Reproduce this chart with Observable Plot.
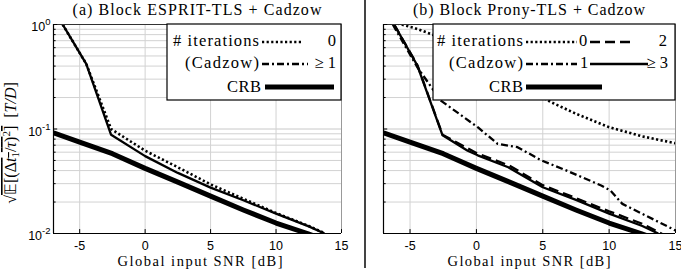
<!DOCTYPE html>
<html><head><meta charset="utf-8">
<script src="https://cdn.jsdelivr.net/npm/d3@7"></script>
<script src="https://cdn.jsdelivr.net/npm/@observablehq/plot@0.6"></script>
<style>
body{margin:0;background:#fff;}
#wrap{position:relative;width:681px;height:271px;overflow:hidden;background:#fff;}
#wrap svg{position:absolute;top:0;overflow:visible;}
#sep{position:absolute;left:364px;top:0;width:1.5px;height:268px;background:#444;}
</style></head><body><div id="wrap"><div id="sep"></div></div>
<script>
// ---- tick values ----
const snrTicks = [-5, 0, 5, 10, 15];
const yMajor = [1, 0.1, 0.01];
const yMinor = [0.02,0.03,0.04,0.05,0.06,0.07,0.08,0.09,0.2,0.3,0.4,0.5,0.6,0.7,0.8,0.9];

// ---- CRB (both panels) ----
const crbSnr = [-7, -5, -2.5, 0, 2.5, 5, 7.5, 10, 12.4, 15];
const crbVal = [0.092, 0.075, 0.058, 0.042, 0.031, 0.0228, 0.0168, 0.0126, 0.01, 0.0075];

// ---- panel (a) Block ESPRIT-TLS + Cadzow ----
const aSnr   = [-6.3, -4.5, -2.6, 0, 2.5, 5, 7.5, 10, 12.5, 13.7];
const aIter0 = [1.0, 0.42, 0.1, 0.062, 0.043, 0.0295, 0.0215, 0.0157, 0.0118, 0.0101];
const aIter1 = [1.0, 0.42, 0.088, 0.055, 0.038, 0.0275, 0.0208, 0.0155, 0.0117, 0.01];

// ---- panel (b) Block Prony-TLS + Cadzow ----
const bSnr0  = [-6.3, -4.7, -3.3, -1, 1, 3, 5.65, 7.5, 10, 12.5, 15];
const bIter0 = [1.05, 0.93, 0.8, 0.55, 0.39, 0.28, 0.18, 0.14, 0.104, 0.085, 0.073];
const bSnr1  = [-6.3, -4.45, -2.68, 0.1, 1.6, 3.1, 4.9, 7, 9.4, 10.1, 11, 15];
const bIter1 = [1.0, 0.39, 0.187, 0.104, 0.072, 0.067, 0.05, 0.039, 0.0288, 0.0258, 0.0192, 0.0107];
const bSnr2  = [-6.2, -4.45, -2.55, 0, 2.5, 5, 7.5, 10, 12.5, 14];
const bIter2 = [1.0, 0.41, 0.088, 0.059, 0.0445, 0.029, 0.0218, 0.0163, 0.0124, 0.0099];
const bSnr3  = [-6.2, -4.45, -2.55, -0.66, 0.1, 2.4, 5, 7.5, 10, 12.5, 13.7];
const bIter3 = [1.0, 0.405, 0.087, 0.062, 0.056, 0.043, 0.0277, 0.021, 0.0155, 0.0118, 0.01];

const rows = (xs, ys) => xs.map((x, i) => ({x, y: ys[i]}));

const DOT = "2.2,2.4", DASHDOT = "7,3,2,3", DASH = "10,5";
const SERIF = "'Liberation Serif', 'Times New Roman', serif";
const SANS = "'Liberation Sans', Arial, sans-serif";

function panel({width, marginRight, series, showY}) {
  const marks = [
    Plot.gridY(yMinor, {stroke: "#d2d2d2", strokeOpacity: 1}),
    Plot.gridY(yMajor, {stroke: "#c8c8c8", strokeOpacity: 1}),
    Plot.gridX(snrTicks, {stroke: "#d2d2d2", strokeOpacity: 1}),
    Plot.line(rows(crbSnr, crbVal), {x: "x", y: "y", stroke: "black", strokeWidth: 5, strokeLinecap: "butt", clip: true}),
    ...series.map(s => Plot.line(rows(s.x, s.y), {x: "x", y: "y", stroke: "black",
        strokeWidth: s.dash === DOT ? 2.6 : 2.3, strokeDasharray: s.dash,
        strokeLinecap: "butt", strokeLinejoin: "miter", clip: true})),
    Plot.ruleY([0.01], {stroke: "black", strokeWidth: 1.2}),
    Plot.ruleY([1], {stroke: "#333", strokeWidth: 1}),
    Plot.ruleX([-7], {stroke: "black", strokeWidth: 1.2}),
    Plot.ruleX([15], {stroke: "#999", strokeWidth: 1}),
    Plot.ruleX(snrTicks, {y1: 0.01, y2: 0.0109, stroke: "black"}),
    Plot.ruleY(yMinor, {x1: -7, x2: -6.8, stroke: "black"}),
    Plot.ruleY(yMajor, {x1: -7, x2: -6.68, stroke: "black"}),
    Plot.axisX(snrTicks, {tickSize: 0, tickPadding: 8, tickFormat: d => String(d), label: null,
        fontSize: 12.5, fontFamily: SANS, fill: "black"})
  ];
  if (showY) marks.push(Plot.axisY(yMajor, {tickSize: 0, tickPadding: 3, label: null,
        tickFormat: d => String(Math.round(Math.log10(d))), fontSize: 12.5, fontFamily: SANS, fill: "black"}));
  return Plot.plot({
    width, height: 271,
    marginLeft: 53, marginRight, marginTop: 24, marginBottom: 38,
    x: {domain: [-7, 15], axis: null},
    y: {type: "log", domain: [0.01, 1], axis: null},
    style: {background: "transparent", color: "black", overflow: "visible"},
    marks
  });
}

function addText(svg, str, x, y, opts = {}) {
  const t = svg.append("text").attr("x", x).attr("y", y)
    .attr("font-family", opts.family || SERIF).attr("font-size", opts.size || 16)
    .attr("text-anchor", opts.anchor || "start").attr("fill", "black").text(str);
  if (opts.len) t.attr("textLength", opts.len).attr("lengthAdjust", "spacing");
  return t;
}
function addLine(svg, x1, x2, y, w, dash) {
  svg.append("line").attr("x1", x1).attr("x2", x2).attr("y1", y).attr("y2", y)
    .attr("stroke", "black").attr("stroke-width", w).attr("stroke-dasharray", dash || null);
}
function fixYLabels(node) {
  d3.select(node).selectAll('g[aria-label="y-axis tick label"] text').each(function() {
    const e = this.textContent;
    const t = d3.select(this);
    t.text("");
    t.append("tspan").attr("dy", 2.5).text("10");
    t.append("tspan").attr("dy", -6).attr("font-size", 9.5).text(e);
  });
}

const wrap = document.getElementById("wrap");

// ---- Panel (a) ----
const pa = panel({width: 356, marginRight: 15, showY: true, series: [
  {x: aSnr, y: aIter0, dash: DOT},
  {x: aSnr, y: aIter1, dash: null}
]});
pa.style.left = "0px";
wrap.appendChild(pa);
fixYLabels(pa);
{
  const s = d3.select(pa);
  addText(s, "(a) Block ESPRIT-TLS + Cadzow", 197, 15, {anchor: "middle", size: 16, len: 249});
  addText(s, "Global input SNR [dB]", 200, 266, {anchor: "middle", size: 14.5, len: 165});
  // y label
  const yl = s.append("text").attr("transform", "translate(16,143) rotate(-90)")
    .attr("text-anchor", "middle").attr("font-family", SERIF).attr("font-size", 16).attr("fill", "black");
  yl.append("tspan").text("√");
  const ov = yl.append("tspan").style("text-decoration", "overline");
  ov.append("tspan").text("𝔼[(Δ");
  ov.append("tspan").attr("font-style", "italic").text("t");
  ov.append("tspan").attr("font-size", 11).attr("dy", 3).text("1");
  ov.append("tspan").attr("dy", -3).text("/");
  ov.append("tspan").attr("font-style", "italic").text("τ");
  ov.append("tspan").text(")");
  ov.append("tspan").attr("font-size", 11).attr("dy", -6).text("2");
  ov.append("tspan").attr("dy", 6).text("]");
  yl.append("tspan").text("  [");
  yl.append("tspan").attr("font-style", "italic").text("T/D");
  yl.append("tspan").text("]");
  // legend
  s.append("rect").attr("x", 167).attr("y", 24).attr("width", 174).attr("height", 76)
    .attr("fill", "white").attr("stroke", "black").attr("stroke-width", 1.2);
  addText(s, "# iterations", 259, 46, {anchor: "end", size: 16.5, len: 86});
  addText(s, "(Cadzow)", 259, 68, {anchor: "end", size: 16.5, len: 74});
  addText(s, "CRB", 261, 92, {anchor: "end", size: 16.5, len: 34});
  addText(s, "0", 336, 46, {anchor: "end", size: 16.5});
  addText(s, "≥ 1", 336, 68, {anchor: "end", size: 16.5});
  addLine(s, 262, 302, 42, 2.6, DOT);
  addLine(s, 262, 308, 64, 2.3, DASHDOT);
  addLine(s, 265, 334, 87, 5);
}

// ---- Panel (b) ----
const pb = panel({width: 351, marginRight: 6, showY: false, series: [
  {x: bSnr0, y: bIter0, dash: DOT},
  {x: bSnr1, y: bIter1, dash: DASHDOT},
  {x: bSnr2, y: bIter2, dash: DASH},
  {x: bSnr3, y: bIter3, dash: null}
]});
pb.style.left = "330px";
wrap.appendChild(pb);
{
  const s = d3.select(pb);
  addText(s, "(b) Block Prony-TLS + Cadzow", 199, 15, {anchor: "middle", size: 16, len: 232});
  addText(s, "Global input SNR [dB]", 199, 266, {anchor: "middle", size: 14.5, len: 163});
  s.append("rect").attr("x", 103).attr("y", 24).attr("width", 242).attr("height", 76)
    .attr("fill", "white").attr("stroke", "black").attr("stroke-width", 1.2);
  addText(s, "# iterations", 193, 46, {anchor: "end", size: 16.5, len: 86});
  addText(s, "(Cadzow)", 193, 68, {anchor: "end", size: 16.5, len: 74});
  addText(s, "CRB", 193, 92, {anchor: "end", size: 16.5, len: 34});
  addLine(s, 196, 247, 42, 2.6, DOT);
  addText(s, "0", 249, 46, {size: 16.5});
  addLine(s, 260, 305, 42, 2.3, DASH);
  addText(s, "2", 337, 46, {anchor: "end", size: 16.5});
  addLine(s, 196, 247, 64, 2.3, DASHDOT);
  addText(s, "1", 250, 68, {size: 16.5});
  addLine(s, 260, 318, 64, 2.3);
  addText(s, "≥ 3", 338, 68, {anchor: "end", size: 16.5});
  addLine(s, 196, 272, 87, 5);
}
</script>
</body></html>
